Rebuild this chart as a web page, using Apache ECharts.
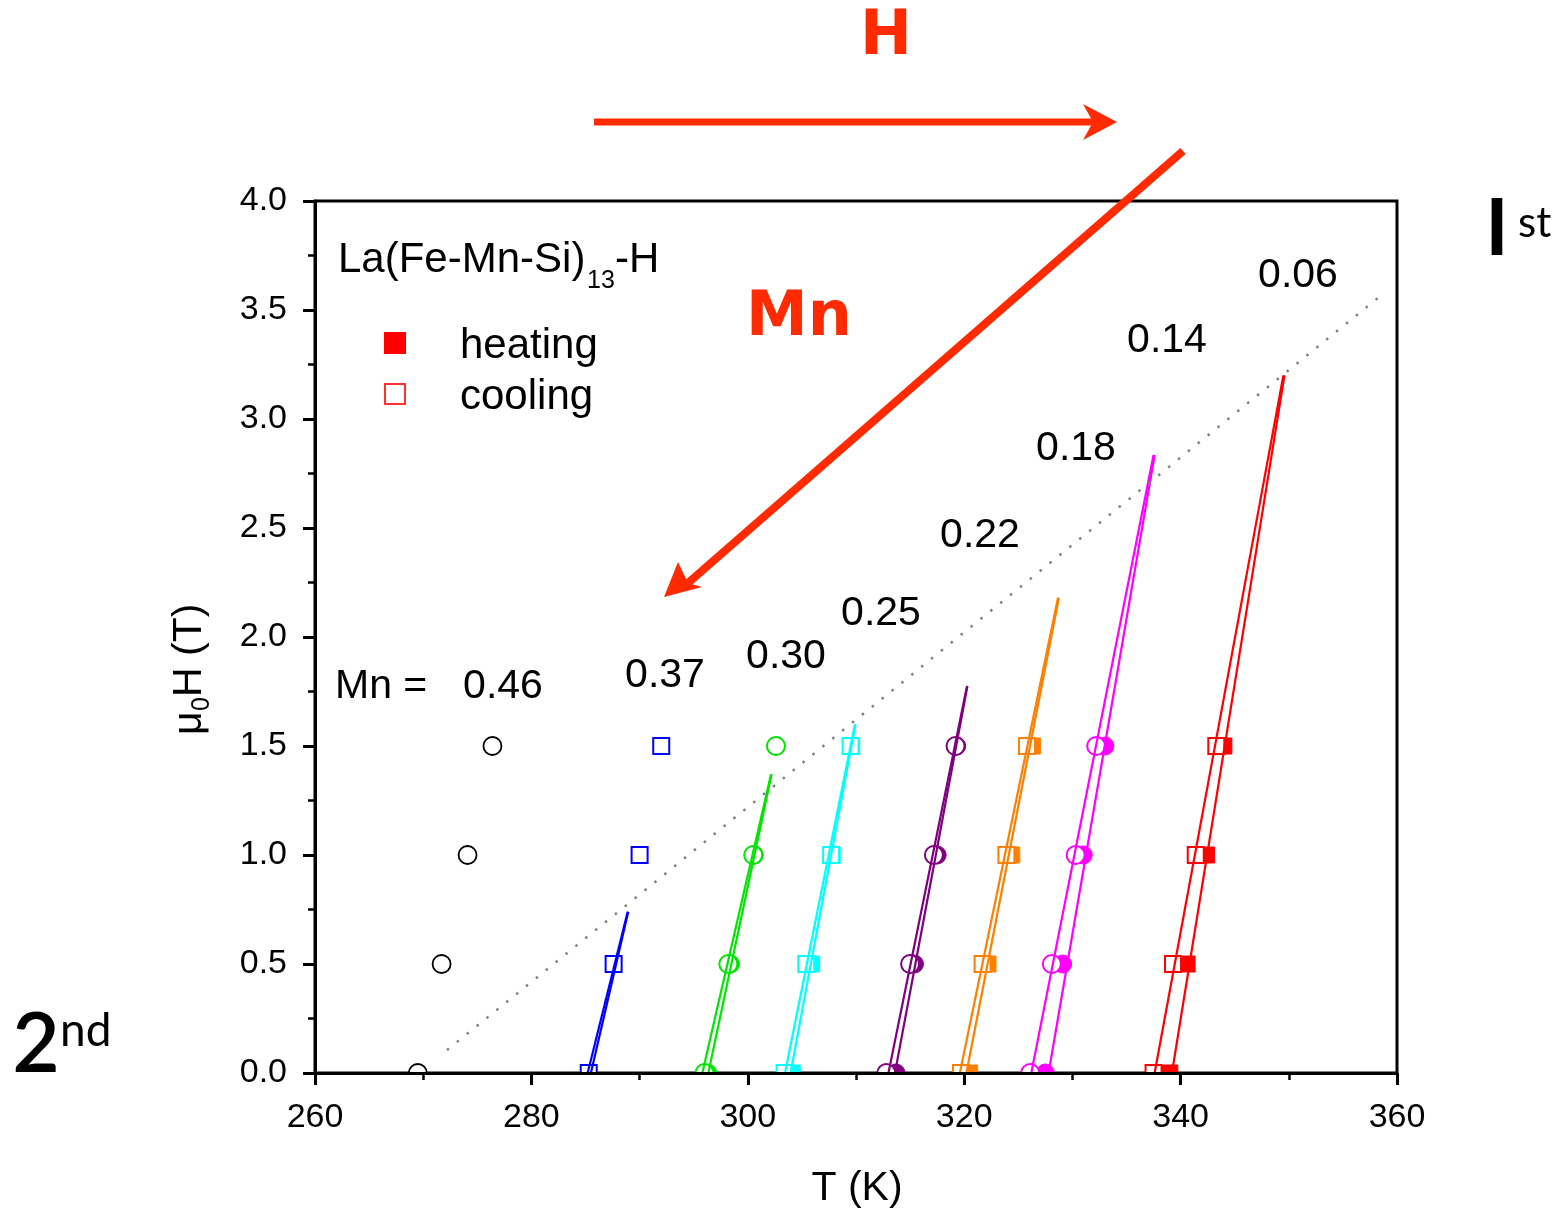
<!DOCTYPE html>
<html><head><meta charset="utf-8">
<script src="https://cdn.jsdelivr.net/npm/echarts@6/dist/echarts.min.js"></script>
<style>html,body{margin:0;padding:0;background:#fff}#c{width:1566px;height:1209px}</style>
</head><body><div id="c"></div>
<script>
// Field values (T) for each measured point
const fields = [0, 0.5, 1.0, 1.5];
// Transition temperatures (K)
const mn046Cool = [269.5, 271.7, 274.1, 276.4];
const mn037Cool = [285.3, 287.6, 290.0, 292.0];
const mn030Cool = [296.0, 298.2, 300.5, 302.6];
const mn030Heat = [296.3, 298.4, 300.6, 302.6];
const mn025Cool = [303.4, 305.4, 307.7, 309.5];
const mn025Heat = [304.1, 305.9, 307.8, 309.6];
const mn022Cool = [312.8, 315.0, 317.2, 319.2];
const mn022Heat = [313.7, 315.4, 317.5, 319.3];
const mn018Cool = [319.7, 321.7, 323.9, 325.8];
const mn018Heat = [320.5, 322.2, 324.4, 326.3];
const mn014Cool = [326.1, 328.1, 330.3, 332.2];
const mn014Heat = [327.5, 329.1, 331.0, 333.0];
const mn006Cool = [337.5, 339.3, 341.4, 343.3];
const mn006Heat = [339.0, 340.6, 342.4, 344.0];
// Linear fits: start at 0 T, end point at top
const fit037Cool = [[285.2, 0], [288.9, 0.74]];
const fit037Heat = [[285.5, 0], [288.95, 0.74]];
const fit030Cool = [[295.8, 0], [302.15, 1.37]];
const fit030Heat = [[296.35, 0], [302.2, 1.37]];
const fit025Cool = [[303.44, 0], [309.9, 1.6]];
const fit025Heat = [[303.95, 0], [309.95, 1.6]];
const fit022Cool = [[313.0, 0], [320.26, 1.775]];
const fit022Heat = [[313.6, 0], [320.3, 1.775]];
const fit018Cool = [[319.6, 0], [328.67, 2.18]];
const fit018Heat = [[320.2, 0], [328.75, 2.18]];
const fit014Cool = [[326.2, 0], [337.5, 2.835]];
const fit014Heat = [[327.8, 0], [337.6, 2.835]];
const fit006Cool = [[337.6, 0], [349.5, 3.2]];
const fit006Heat = [[339.2, 0], [349.6, 3.2]];
// Critical line (dotted)
const critLine = [[272.2, 0.105], [358.24, 3.555]];
// Composition labels
const mnLabels = ['0.06', '0.14', '0.18', '0.22', '0.25', '0.30', '0.37', '0.46'];

const C = {
  black: '#000000', blue: '#0000ff', green: '#00e600', cyan: '#00ffff',
  purple: '#800080', orange: '#ff8000', magenta: '#ff00ff', red: '#ff0000'
};

function pts(temps) { return temps.map((t, i) => [t, fields[i]]); }
function scatter(name, temps, color, symbol, heating) {
  const size = symbol === 'circle' ? 18 : 16;
  return {
    name: name, type: 'scatter', data: pts(temps), symbol: symbol, symbolSize: size,
    z: heating ? 2 : 3,
    itemStyle: heating ? { color: color, borderColor: color, borderWidth: 1, opacity: 1 }
                       : { color: '#ffffff', borderColor: color, borderWidth: color === C.black ? 1.8 : 2, opacity: 1 },
    emphasis: { disabled: true }
  };
}
function fit(name, d, color) {
  return {
    name: name, type: 'line', data: d, showSymbol: false, symbol: 'none', z: 4,
    lineStyle: { color: color, width: 2.2 }, emphasis: { disabled: true }
  };
}

const series = [
  scatter('0.46 cooling', mn046Cool, C.black, 'circle', false),
  scatter('0.37 cooling', mn037Cool, C.blue, 'rect', false),
  scatter('0.30 heating', mn030Heat, C.green, 'circle', true),
  scatter('0.30 cooling', mn030Cool, C.green, 'circle', false),
  scatter('0.25 heating', mn025Heat, C.cyan, 'rect', true),
  scatter('0.25 cooling', mn025Cool, C.cyan, 'rect', false),
  scatter('0.22 heating', mn022Heat, C.purple, 'circle', true),
  scatter('0.22 cooling', mn022Cool, C.purple, 'circle', false),
  scatter('0.18 heating', mn018Heat, C.orange, 'rect', true),
  scatter('0.18 cooling', mn018Cool, C.orange, 'rect', false),
  scatter('0.14 heating', mn014Heat, C.magenta, 'circle', true),
  scatter('0.14 cooling', mn014Cool, C.magenta, 'circle', false),
  scatter('0.06 heating', mn006Heat, C.red, 'rect', true),
  scatter('0.06 cooling', mn006Cool, C.red, 'rect', false),
  fit('fit 0.37 c', fit037Cool, C.blue), fit('fit 0.37 h', fit037Heat, C.blue),
  fit('fit 0.30 c', fit030Cool, C.green), fit('fit 0.30 h', fit030Heat, C.green),
  fit('fit 0.25 c', fit025Cool, C.cyan), fit('fit 0.25 h', fit025Heat, C.cyan),
  fit('fit 0.22 c', fit022Cool, C.purple), fit('fit 0.22 h', fit022Heat, C.purple),
  fit('fit 0.18 c', fit018Cool, C.orange), fit('fit 0.18 h', fit018Heat, C.orange),
  fit('fit 0.14 c', fit014Cool, C.magenta), fit('fit 0.14 h', fit014Heat, C.magenta),
  fit('fit 0.06 c', fit006Cool, C.red), fit('fit 0.06 h', fit006Heat, C.red),
  { name: 'critical', type: 'line', data: critLine, showSymbol: false, symbol: 'none', z: 4,
    lineStyle: { color: '#808080', width: 2.5, type: [2.5, 10.2], cap: 'butt' }, emphasis: { disabled: true } }
];

const F = 'Liberation Sans, Arial, sans-serif';
const ARROW = '#ff2a00';
function txt(x, y, s, size, opts) {
  opts = opts || {};
  return { type: 'text', x: x, y: y, z: 20, silent: true,
    style: { text: s, fill: opts.fill || '#000', font: (opts.weight || 'normal') + ' ' + size + 'px ' + (opts.family || F),
      textAlign: opts.align || 'center', textVerticalAlign: opts.valign || 'middle' } };
}

const labelPos = [[1298, 276], [1167, 341], [1076, 449], [980, 536], [881, 614], [786, 657], [665, 676], [503, 687]];
const graphics = [
  // cover below x axis so markers at 0 T appear cut by the axis
  { type: 'rect', z: 5, silent: true, shape: { x: 312, y: 1075, width: 1090, height: 22 }, style: { fill: '#fff' } },
  txt(338, 260, 'La(Fe-Mn-Si)', 42, { align: 'left' }),
  txt(587, 281, '13', 25, { align: 'left' }),
  txt(615, 260, '-H', 42, { align: 'left' }),
  { type: 'rect', z: 20, silent: true, shape: { x: 384, y: 332, width: 22, height: 22 }, style: { fill: C.red } },
  { type: 'rect', z: 20, silent: true, shape: { x: 385, y: 384, width: 20, height: 20 }, style: { fill: '#fff', stroke: '#ff3030', lineWidth: 2 } },
  txt(460, 346, 'heating', 42, { align: 'left' }),
  txt(460, 397, 'cooling', 42, { align: 'left' }),
  txt(335, 687, 'Mn =', 41, { align: 'left' }),
  txt(857, 1189, 'T (K)', 41),
  { type: 'group', x: 190, y: 670, rotation: Math.PI / 2, z: 20, children: [
      { type: 'text', x: -65, y: 0, style: { text: 'μ', fill: '#000', font: '41px ' + F, textAlign: 'left', textVerticalAlign: 'middle' } },
      { type: 'text', x: -41, y: 12, style: { text: '0', fill: '#000', font: '25px ' + F, textAlign: 'left', textVerticalAlign: 'middle' } },
      { type: 'text', x: -27, y: 0, style: { text: 'H (T)', fill: '#000', font: '41px ' + F, textAlign: 'left', textVerticalAlign: 'middle' } }
  ] },
  // arrows
  { type: 'line', z: 20, silent: true, shape: { x1: 594, y1: 122, x2: 1094, y2: 122 }, style: { stroke: ARROW, lineWidth: 7 } },
  { type: 'polygon', z: 20, silent: true, shape: { points: [[1117, 122], [1083, 104], [1093, 122], [1083, 140]] }, style: { fill: ARROW } },
  { type: 'line', z: 20, silent: true, shape: { x1: 1183, y1: 151, x2: 688, y2: 583 }, style: { stroke: ARROW, lineWidth: 8 } },
  { type: 'polygon', z: 20, silent: true, shape: { points: [[664, 597], [678, 562], [688, 583], [702, 587]] }, style: { fill: ARROW } },
  txt(886, 38, 'H', 62, { weight: 'bold', family: 'DejaVu Sans', fill: ARROW }),
  txt(799, 319, 'Mn', 62, { weight: 'bold', family: 'DejaVu Sans', fill: ARROW }),
  // 1st / 2nd
  txt(1497, 230, 'I', 79, { weight: 'bold', family: 'Lato' }),
  txt(1518, 223, 'st', 42, { align: 'left', family: 'Lato' }),
  txt(36, 1046, '2', 82, { family: 'Lato', weight: '600' }),
  txt(60, 1031, 'nd', 46, { align: 'left', family: 'Lato' })
];
mnLabels.forEach((s, i) => graphics.push(txt(labelPos[i][0], labelPos[i][1], s, 41)));

const axisCommon = {
  type: 'value', z: 10,
  axisLine: { show: true, onZero: false, lineStyle: { color: '#000', width: 3 } },
  axisTick: { show: true, inside: false, length: 12, lineStyle: { color: '#000', width: 3 } },
  minorTick: { show: true, splitNumber: 2, length: 7, lineStyle: { color: '#000', width: 2.5 } },
  splitLine: { show: false }, minorSplitLine: { show: false }
};

const chart = echarts.init(document.getElementById('c'), null, { renderer: 'canvas' });
chart.setOption({
  animation: false,
  backgroundColor: '#fff',
  grid: { left: 315, right: 169, top: 201, bottom: 136, show: true, borderColor: '#000', borderWidth: 3, backgroundColor: 'transparent' },
  xAxis: Object.assign({}, axisCommon, { min: 260, max: 360, interval: 20,
    axisLabel: { color: '#000', fontSize: 34, fontFamily: F, margin: 28 } }),
  yAxis: Object.assign({}, axisCommon, { min: 0, max: 4, interval: 0.5,
    axisLabel: { color: '#000', fontSize: 34, fontFamily: F, margin: 28, formatter: v => v.toFixed(1) } }),
  series: series,
  graphic: { elements: graphics }
});
</script>
</body></html>
